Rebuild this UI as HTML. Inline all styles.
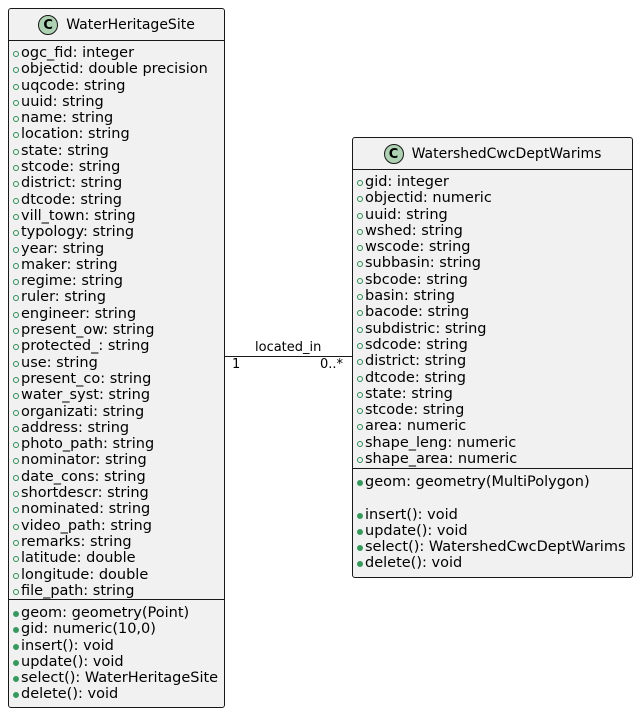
<!DOCTYPE html>
<html><head><meta charset="utf-8"><style>
body{margin:0;width:637px;height:712px;background:#fff;position:relative;font-family:"DejaVu Sans","Liberation Sans",sans-serif;font-size:13px;color:#000;overflow:hidden}
.box{position:absolute;background:#f1f1f1;border:1px solid #181818;border-radius:3px;box-sizing:border-box}
.hd{position:absolute;left:0;right:0;top:0;display:flex;justify-content:center;align-items:center;gap:8px;font-size:14px}
.c{width:20px;height:20px;border-radius:50%;background:#add1b2;border:1px solid #181818;box-sizing:border-box;font-weight:bold;font-size:13px;display:flex;align-items:center;justify-content:center}
.sep{position:absolute;left:0;right:0;border-top:1px solid #181818}
.lst{position:absolute;left:3px;line-height:16.3px;white-space:nowrap;font-size:14.5px}
.lst div{position:relative;padding-left:9px}
.lst div::before{content:"";position:absolute;left:1px;top:6px;width:4px;height:4px;border:1px solid #2e8b57;border-radius:50%}
.lst.m div::before{background:#38995e;border-color:#38995e}
.t{position:absolute;font-size:13px;white-space:nowrap}
</style></head><body>
<div class="box" style="left:8px;top:8px;width:217px;height:700px">
 <div class="hd" style="height:32px"><span class="c">C</span><span>WaterHeritageSite</span></div>
 <div class="sep" style="top:31px"></div>
 <div class="lst" style="top:36px">
<div>ogc_fid: integer</div><div>objectid: double precision</div><div>uqcode: string</div><div>uuid: string</div><div>name: string</div><div>location: string</div><div>state: string</div><div>stcode: string</div><div>district: string</div><div>dtcode: string</div><div>vill_town: string</div><div>typology: string</div><div>year: string</div><div>maker: string</div><div>regime: string</div><div>ruler: string</div><div>engineer: string</div><div>present_ow: string</div><div>protected_: string</div><div>use: string</div><div>present_co: string</div><div>water_syst: string</div><div>organizati: string</div><div>address: string</div><div>photo_path: string</div><div>nominator: string</div><div>date_cons: string</div><div>shortdescr: string</div><div>nominated: string</div><div>video_path: string</div><div>remarks: string</div><div>latitude: double</div><div>longitude: double</div><div>file_path: string</div>
 </div>
 <div class="sep" style="top:590px"></div>
 <div class="lst m" style="top:596px">
<div>geom: geometry(Point)</div><div>gid: numeric(10,0)</div><div>insert(): void</div><div>update(): void</div><div>select(): WaterHeritageSite</div><div>delete(): void</div>
 </div>
</div>
<div class="box" style="left:352px;top:137px;width:281px;height:441px">
 <div class="hd" style="height:32px"><span class="c">C</span><span>WatershedCwcDeptWarims</span></div>
 <div class="sep" style="top:31px"></div>
 <div class="lst" style="top:36px">
<div>gid: integer</div><div>objectid: numeric</div><div>uuid: string</div><div>wshed: string</div><div>wscode: string</div><div>subbasin: string</div><div>sbcode: string</div><div>basin: string</div><div>bacode: string</div><div>subdistric: string</div><div>sdcode: string</div><div>district: string</div><div>dtcode: string</div><div>state: string</div><div>stcode: string</div><div>area: numeric</div><div>shape_leng: numeric</div><div>shape_area: numeric</div>
 </div>
 <div class="sep" style="top:330px"></div>
 <div class="lst m" style="top:336px">
<div>geom: geometry(MultiPolygon)</div><div style="height:16.3px;visibility:hidden">x</div><div>insert(): void</div><div>update(): void</div><div>select(): WatershedCwcDeptWarims</div><div>delete(): void</div>
 </div>
</div>
<div style="position:absolute;left:225px;top:356px;width:127px;border-top:1px solid #181818"></div>
<div class="t" style="left:255px;top:340px">located_in</div>
<div class="t" style="left:232px;top:357px">1</div>
<div class="t" style="left:320px;top:357px">0..*</div>
</body></html>
